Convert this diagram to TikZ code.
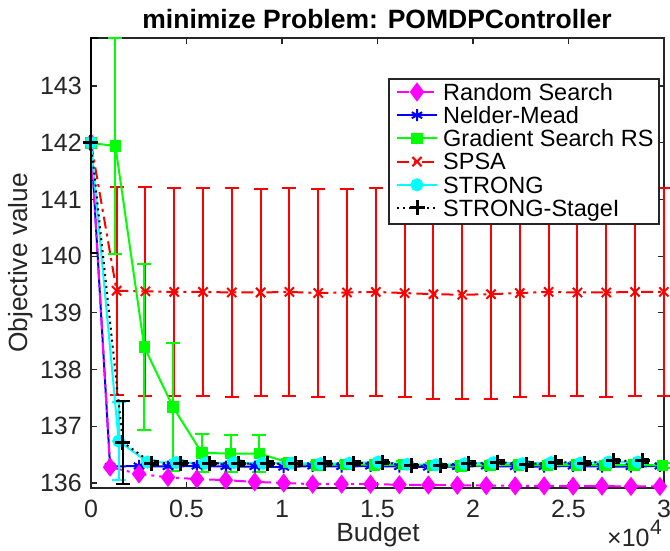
\documentclass[tikz,border=0pt]{standalone}
\usepackage{fontspec}
\setmainfont{Liberation Sans}
\usepackage{pgfplots}
\pgfplotsset{compat=1.16}
\usetikzlibrary{plotmarks}

\definecolor{axgray}{rgb}{0.15,0.15,0.15}
\definecolor{rsmag}{rgb}{1,0,1}
\definecolor{nmblue}{rgb}{0,0,1}
\definecolor{gsgreen}{rgb}{0,1,0}
\definecolor{spsared}{rgb}{1,0,0}
\definecolor{strcyan}{rgb}{0,1,1}
\newcommand{\tickfont}{\fontsize{25}{30}\selectfont}
\newcommand{\legfont}{\fontsize{23.5}{28}\selectfont}
\newcommand{\labfont}{\fontsize{26.3}{31}\selectfont}
\newcommand{\ttlfont}{\fontsize{26.5}{32}\selectfont\bfseries}
\newcommand{\expfont}{\fontsize{21}{25}\selectfont}

\tikzset{
  rsplot/.style={rsmag, line width=2pt, dash pattern=on 12pt off 5pt on 3pt off 5pt,
    mark=diamond*, mark size=8pt, mark options={solid, fill=rsmag}},
  nmplot/.style={nmblue, line width=2pt, mark=asterisk, mark size=6pt, mark options={solid}},
  gsplot/.style={gsgreen, line width=2pt, mark=square*, mark size=4.75pt, mark options={solid, fill=gsgreen}},
  spsaplot/.style={spsared, line width=2pt, dash pattern=on 12pt off 5pt on 3pt off 5pt,
    mark=x, mark size=6.5pt, mark options={solid}},
  strongplot/.style={strcyan, line width=2pt, mark=*, mark size=5.5pt, mark options={solid, fill=strcyan}},
  stageplot/.style={black, line width=2pt, dash pattern=on 2pt off 4pt,
    mark=+, mark size=7.5pt, mark options={solid, line width=3pt}},
  legtext/.style={anchor=base west, inner sep=0pt, font=\legfont, yshift=-8.4pt},
}
\pgfplotsset{
  errbar/.style={error bars/y dir=both, error bars/y explicit,
    error bars/error bar style={line width=2pt, solid},
    error bars/error mark options={rotate=90, line width=2pt, mark size=7pt, solid}},
}

\begin{document}
\begin{tikzpicture}[x=1pt,y=1pt]
\useasboundingbox (0,0) rectangle (670,551);

\begin{axis}[
  at={(91pt,63pt)}, anchor=south west,
  scale only axis, width=573pt, height=450pt,
  xmin=0, xmax=30000, ymin=135.912, ymax=143.848,
  clip=false,
  axis line style={axgray, line width=1.2pt},
  tick style={axgray, line width=1.2pt},
  major tick length=6pt, tick align=inside, tick pos=both,
  xtick={0,5000,...,30000},
  xticklabels={0,0.5,1,1.5,2,2.5,3},
  scaled x ticks=false,
  ytick={136,...,143},
  yticklabels={136,137,138,139,140,141,142,143},
  tick label style={font=\tickfont, text=axgray, inner sep=0pt},
  xticklabel style={yshift=-12pt},
  yticklabel style={xshift=-9pt},
]
% Nelder-Mead
\addplot[nmplot] coordinates {(0,142) (1000,136.29) (2515,136.30) (4030,136.29) (5545,136.30)
  (7060,136.29) (8575,136.29) (10090,136.28) (11605,136.30) (13120,136.29) (14635,136.30)
  (16150,136.29) (17665,136.28) (19180,136.29) (20695,136.30) (22210,136.29) (23725,136.29)
  (25240,136.30) (26755,136.29) (28270,136.29) (29785,136.30)};
% random search
\addplot[rsplot] coordinates {(0,142) (1000,136.28) (2515,136.16) (4030,136.10) (5545,136.07)
  (7060,136.05) (8575,136.02) (10090,136.00) (11605,135.98) (13120,135.98) (14635,135.98)
  (16150,135.97) (17665,135.965) (19180,135.96) (20695,135.955) (22210,135.95) (23725,135.95)
  (25240,135.945) (26755,135.945) (28270,135.94) (29785,135.94)};
% SPSA
\addplot[spsaplot, errbar] coordinates {(0,142) +- (0,0)
  (1340,139.39) +- (0,1.83) (2848,139.38) +- (0,1.84) (4356,139.37) +- (0,1.83)
  (5864,139.37) +- (0,1.84) (7372,139.36) +- (0,1.84) (8880,139.36) +- (0,1.83)
  (10388,139.37) +- (0,1.83) (11896,139.35) +- (0,1.84) (13404,139.36) +- (0,1.83)
  (14912,139.37) +- (0,1.84) (16420,139.35) +- (0,1.83) (17928,139.33) +- (0,1.84)
  (19436,139.32) +- (0,1.83) (20944,139.33) +- (0,1.84) (22452,139.35) +- (0,1.83)
  (23960,139.37) +- (0,1.84) (25468,139.36) +- (0,1.83) (26976,139.36) +- (0,1.84)
  (28484,139.37) +- (0,1.83) (29992,139.37) +- (0,1.83)};
% gradient search
\addplot[gsplot, errbar] coordinates {(0,142) +- (0,0)
  (1280,141.94) +- (0,1.90) (2788,138.40) +- (0,1.47) (4296,137.34) +- (0,1.13)
  (5804,136.53) +- (0,0.33) (7312,136.52) +- (0,0.32) (8820,136.52) +- (0,0.33)
  (10328,136.36) +- (0,0.06) (11836,136.32) +- (0,0.05) (13344,136.33) +- (0,0.05)
  (14852,136.32) +- (0,0.05) (16360,136.33) +- (0,0.05) (17868,136.31) +- (0,0.05)
  (19376,136.30) +- (0,0.05) (20884,136.31) +- (0,0.05) (22392,136.32) +- (0,0.05)
  (23900,136.31) +- (0,0.05) (25408,136.32) +- (0,0.05) (26916,136.31) +- (0,0.05)
  (28424,136.32) +- (0,0.05) (29932,136.31) +- (0,0.05)};
% STRONG
\addplot[strongplot, errbar] coordinates {(0,142) +- (0,0)
  (1450,136.74) +- (0,0.69) (2960,136.37) +- (0,0.04) (4470,136.36) +- (0,0.04)
  (5980,136.35) +- (0,0.04) (7490,136.36) +- (0,0.04) (9000,136.35) +- (0,0.04)
  (10510,136.35) +- (0,0.04) (12020,136.34) +- (0,0.04) (13530,136.35) +- (0,0.04)
  (15040,136.37) +- (0,0.04) (16550,136.33) +- (0,0.04) (18060,136.32) +- (0,0.04)
  (19570,136.34) +- (0,0.04) (21080,136.36) +- (0,0.04) (22590,136.34) +- (0,0.04)
  (24100,136.36) +- (0,0.04) (25610,136.35) +- (0,0.04) (27120,136.37) +- (0,0.04)
  (28630,136.37) +- (0,0.04)};
% STRONG stage I
\addplot[stageplot, errbar] coordinates {(0,142) +- (0,0)
  (1670,136.72) +- (0,0.73) (3180,136.35) +- (0,0.04) (4690,136.35) +- (0,0.04)
  (6200,136.35) +- (0,0.04) (7710,136.34) +- (0,0.04) (9220,136.34) +- (0,0.04)
  (10730,136.34) +- (0,0.04) (12240,136.34) +- (0,0.04) (13750,136.35) +- (0,0.04)
  (15260,136.37) +- (0,0.04) (16770,136.30) +- (0,0.04) (18280,136.30) +- (0,0.04)
  (19790,136.34) +- (0,0.04) (21300,136.37) +- (0,0.04) (22810,136.33) +- (0,0.04)
  (24320,136.37) +- (0,0.04) (25830,136.35) +- (0,0.04) (27340,136.39) +- (0,0.04)
  (28850,136.39) +- (0,0.04)};
\end{axis}

% dark edge on the upper left of the frame
\draw[black, line width=2pt] (98,513) -- (91,513) -- (91,298) -- (98,298);

% legend
\draw[axgray, line width=1.3pt, fill=white] (389,472) rectangle (659,327);
\draw[rsplot] (397,459) -- (437,459);
\draw[rsplot] plot coordinates {(417,459)};
\node[legtext] (lrs) at (443,459) {Random Search};
\draw[nmplot] (397,435.8) -- (437,435.8);
\draw[nmplot] plot coordinates {(417,435.8)};
\node[legtext] (lnm) at (443,435.8) {Nelder-Mead};
\draw[gsplot] (397,412.6) -- (437,412.6);
\draw[gsplot] plot coordinates {(417,412.6)};
\node[legtext] (lgs) at (443,412.6) {Gradient Search RS};
\draw[spsaplot] (397,389.4) -- (437,389.4);
\draw[spsaplot] plot coordinates {(417,389.4)};
\node[legtext] (lspsa) at (443,389.4) {SPSA};
\draw[strongplot] (397,366.2) -- (437,366.2);
\draw[strongplot] plot coordinates {(417,366.2)};
\node[legtext] (lstrong) at (443,366.2) {STRONG};
\draw[stageplot] (397,343) -- (437,343);
\draw[stageplot] plot coordinates {(417,343)};
\node[legtext] (lstage) at (443,343) {STRONG-StageI};

% title, axis labels and the scale factor
\node[anchor=base, font=\ttlfont] (title) at (377,522) {minimize Problem: POMDPController};
\node[anchor=base, font=\labfont, text=axgray] (xlab) at (378,9) {Budget};
\node[anchor=base, rotate=90, font=\labfont, text=axgray] (ylab) at (28,288) {Objective value};
\node[anchor=base west, inner sep=0pt, font=\tickfont, text=axgray] (xscale) at (607,4) {×10};
\node[anchor=base west, inner sep=0pt, font=\expfont, text=axgray] (xexp) at (xscale.base east) [yshift=12pt] {4};
\end{tikzpicture}
\end{document}
